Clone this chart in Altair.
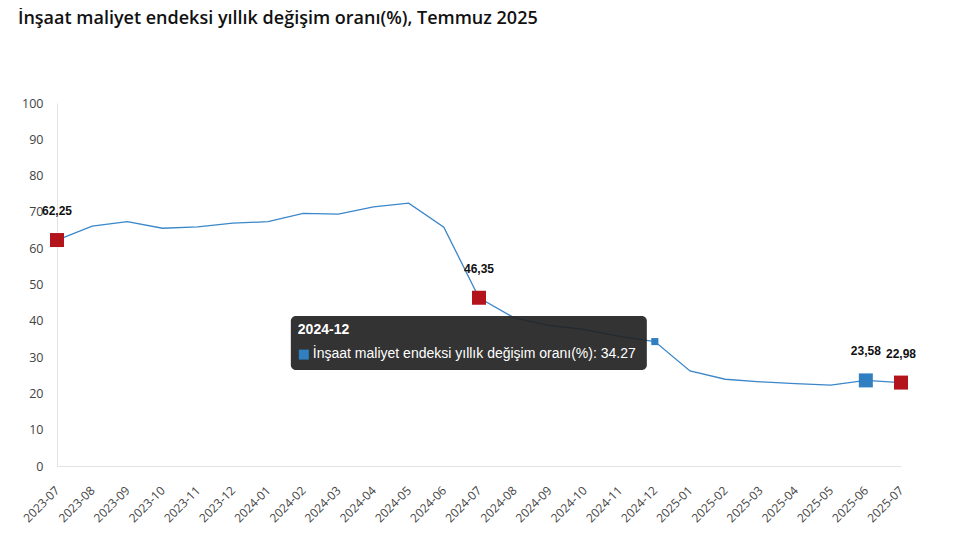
import altair as alt
import pandas as pd

months = ["2023-07", "2023-08", "2023-09", "2023-10", "2023-11", "2023-12",
          "2024-01", "2024-02", "2024-03", "2024-04", "2024-05", "2024-06",
          "2024-07", "2024-08", "2024-09", "2024-10", "2024-11", "2024-12",
          "2025-01", "2025-02", "2025-03", "2025-04", "2025-05", "2025-06",
          "2025-07"]
values = [62.25, 66.1, 67.3, 65.5, 65.9, 66.9,
          67.3, 69.6, 69.4, 71.4, 72.4, 65.8,
          46.35, 40.8, 38.7, 37.6, 35.7, 34.27,
          26.2, 23.9, 23.2, 22.7, 22.3, 23.58,
          22.98]
hl_months = ["2023-07", "2024-07", "2025-06", "2025-07"]
hl_colors = ["#b3141c", "#b3141c", "#2f7fc1", "#b3141c"]
hover_month = "2024-12"
series_name = "İnşaat maliyet endeksi yıllık değişim oranı(%)"
title_text = "İnşaat maliyet endeksi yıllık değişim oranı(%), Temmuz 2025"
y_ticks = [0, 10, 20, 30, 40, 50, 60, 70, 80, 90, 100]

df = pd.DataFrame({"month": months, "value": values})
hl = df[df["month"].isin(hl_months)].copy()
hl["color"] = [hl_colors[hl_months.index(m)] for m in hl["month"]]
hl["label"] = [f"{v:.2f}".replace(".", ",") for v in hl["value"]]
hov = df[df["month"] == hover_month].copy()
hov["tip"] = [f"{series_name}: {v:.2f}" for v in hov["value"]]

x = alt.X("month:O", sort=months,
          scale=alt.Scale(type="point", padding=0),
          axis=alt.Axis(title=None, labelAngle=-45, labelAlign="right",
                        labelBaseline="middle", labelPadding=22, ticks=False,
                        domainColor="#e3e3e3", labelFont="Open Sans",
                        labelFontSize=12, labelColor="#444"))
y = alt.Y("value:Q", scale=alt.Scale(domain=[0, 100]),
          axis=alt.Axis(title=None, values=y_ticks, ticks=False, grid=False,
                        labelPadding=14, domainColor="#e3e3e3",
                        labelFont="Open Sans", labelFontSize=12.5,
                        labelColor="#444"))

line = alt.Chart(df).mark_line(color="#3a87c9", strokeWidth=1.3).encode(x=x, y=y)

squares = alt.Chart(hl).mark_square(size=196, opacity=1).encode(
    x=x, y=y, color=alt.Color("color:N", scale=None))

labels = alt.Chart(hl).mark_text(dy=-29, font="Liberation Sans", fontWeight="bold",
                                 fontSize=12, color="#111").encode(
    x=x, y=y, text="label:N")

hov_pt = alt.Chart(hov).mark_square(size=50, color="#2f7fc1", opacity=1).encode(x=x, y=y)

box = alt.Chart(hov).mark_rect(xOffset=-364, x2Offset=-8, yOffset=-25.6, y2Offset=28.4,
                               cornerRadius=5, color="#222222", opacity=0.92).encode(
    x=x, x2=alt.X2("month"), y=y, y2=alt.Y2("value"))

tip_head = alt.Chart(hov).mark_text(align="left", baseline="middle", dx=-357, dy=-11.6,
                                    font="Liberation Sans", fontWeight="bold",
                                    fontSize=14, color="white").encode(
    x=x, y=y, text="month:N")

tip_sq = alt.Chart(hov).mark_square(size=100, color="#2f7fc1", opacity=1,
                                    xOffset=-351, yOffset=13).encode(x=x, y=y)

tip_body = alt.Chart(hov).mark_text(align="left", baseline="middle", dx=-342, dy=12.6,
                                    font="Liberation Sans", fontSize=14,
                                    color="white").encode(
    x=x, y=y, text="tip:N")

chart = alt.layer(line, squares, labels, hov_pt, box, tip_head, tip_sq, tip_body).properties(
    width=844, height=363,
    title=alt.TitleParams(text=title_text, anchor="start", font="Open Sans",
                          fontSize=18, fontWeight=600, color="#111",
                          dx=-3, offset=69),
    autosize=alt.AutoSizeParams(type="none"),
    padding={"left": 49, "top": 95, "right": 68, "bottom": 69},
).configure_view(stroke=None)

chart.save("out.html", embed_options={"renderer": "svg", "actions": False})
